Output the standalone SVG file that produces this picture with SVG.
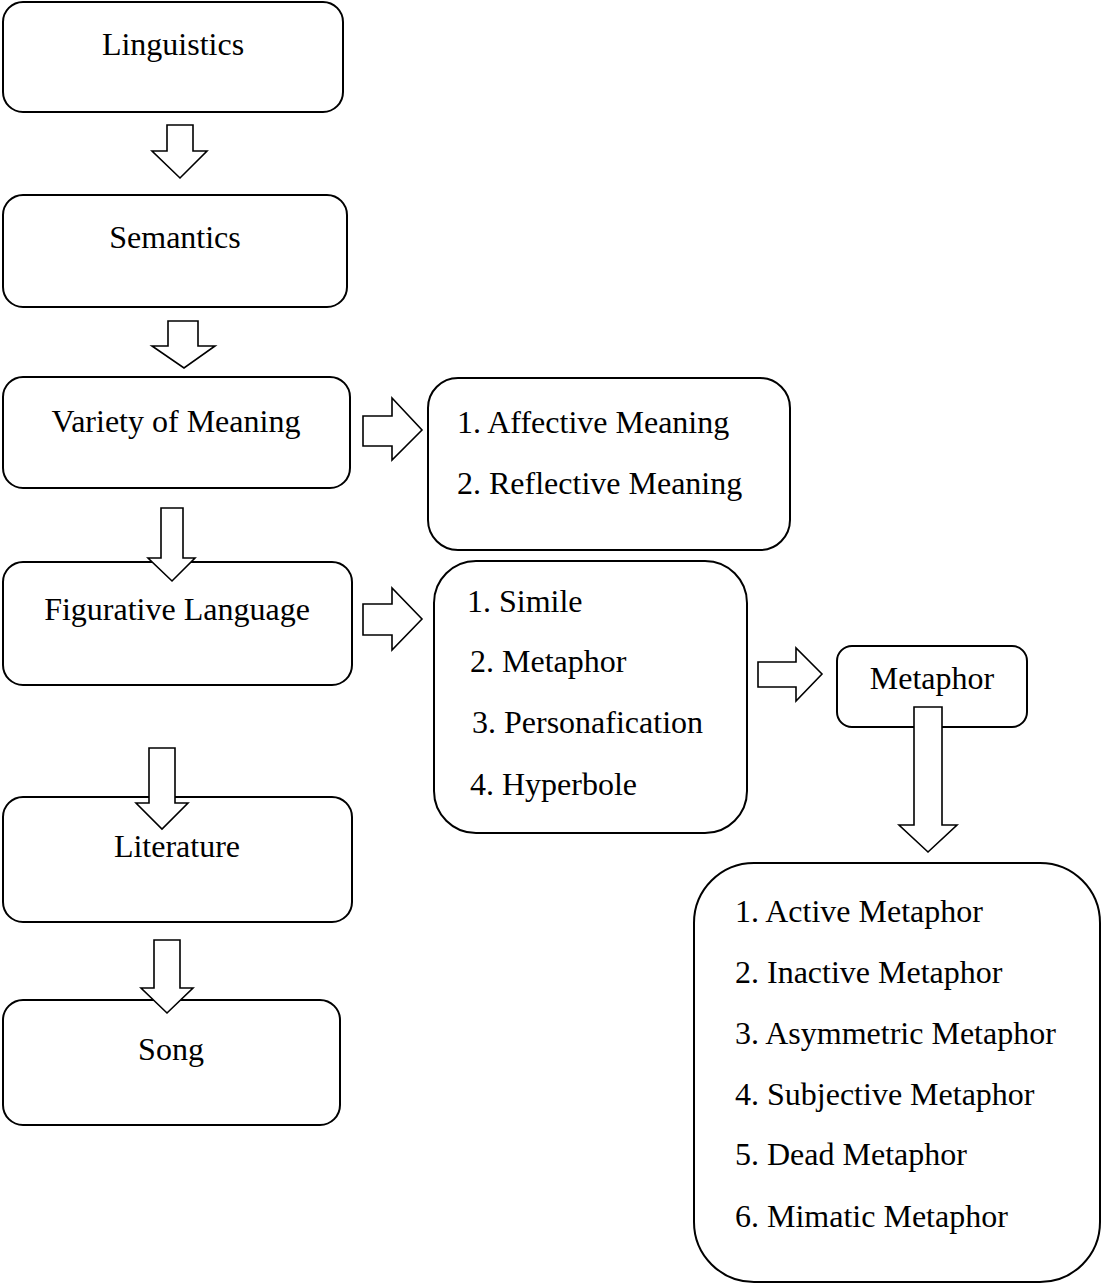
<svg xmlns="http://www.w3.org/2000/svg" width="1101" height="1283" viewBox="0 0 1101 1283">
<style>
.box{fill:#fff;stroke:#000;stroke-width:2}
.arr{fill:#fff;stroke:#000;stroke-width:1.6;stroke-linejoin:miter}
text{font-family:"Liberation Serif","Times New Roman",serif;font-size:32px;fill:#000}
.c{text-anchor:middle}
</style>
<rect width="1101" height="1283" fill="#fff"/>
<g id="linguistics"><rect class="box" x="3" y="2" width="340" height="110" rx="20"/><text class="c" x="173" y="55">Linguistics</text></g>
<g id="semantics"><rect class="box" x="3" y="195" width="344" height="112" rx="20"/><text class="c" x="175" y="248">Semantics</text></g>
<g id="variety"><rect class="box" x="3" y="377" width="347" height="111" rx="20"/><text class="c" x="176" y="432">Variety of Meaning</text></g>
<g id="figurative"><rect class="box" x="3" y="562" width="349" height="123" rx="20"/><text class="c" x="177" y="620">Figurative Language</text></g>
<g id="literature"><rect class="box" x="3" y="797" width="349" height="125" rx="20"/><text class="c" x="177" y="857">Literature</text></g>
<g id="song"><rect class="box" x="3" y="1000" width="337" height="125" rx="20"/><text class="c" x="171" y="1060">Song</text></g>
<g id="meanings"><rect class="box" x="428" y="378" width="362" height="172" rx="30"/><text x="457" y="433">1. Affective Meaning</text><text x="457" y="494">2. Reflective Meaning</text></g>
<g id="figures"><rect class="box" x="434" y="561" width="313" height="272" rx="42"/><text x="467" y="612">1. Simile</text><text x="470" y="672">2. Metaphor</text><text x="472" y="733">3. Personafication</text><text x="470" y="795">4. Hyperbole</text></g>
<g id="metaphor"><rect class="box" x="837" y="646" width="190" height="81" rx="15"/><text class="c" x="932" y="689">Metaphor</text></g>
<g id="types"><rect class="box" x="694" y="863" width="406" height="419" rx="60"/><text x="735" y="922">1. Active Metaphor</text><text x="735" y="983">2. Inactive Metaphor</text><text x="735" y="1044">3. Asymmetric Metaphor</text><text x="735" y="1105">4. Subjective Metaphor</text><text x="735" y="1165">5. Dead Metaphor</text><text x="735" y="1227">6. Mimatic Metaphor</text></g>
<g id="connectors">
<polygon class="arr" points="167,125 193,125 193,151 207,151 180,178 152,151 167,151"/>
<polygon class="arr" points="168,321 198,321 198,346 215,346 184,368 152,346 168,346"/>
<polygon class="arr" points="161,508 183,508 183,558 195,558 172,581 148,558 161,558"/>
<polygon class="arr" points="149,748 175,748 175,803 188,803 162,829 136,803 149,803"/>
<polygon class="arr" points="154,940 180,940 180,988 193,988 167,1013 141,988 154,988"/>
<polygon class="arr" points="363,416 392,416 392,398 422,430 392,460 392,446 363,446"/>
<polygon class="arr" points="363,604 392,604 392,588 422,619 392,650 392,635 363,635"/>
<polygon class="arr" points="758,662 796,662 796,648 822,674 796,701 796,687 758,687"/>
<polygon class="arr" points="914,707 942,707 942,825 957,825 928,852 899,825 914,825"/>
</g>
</svg>
